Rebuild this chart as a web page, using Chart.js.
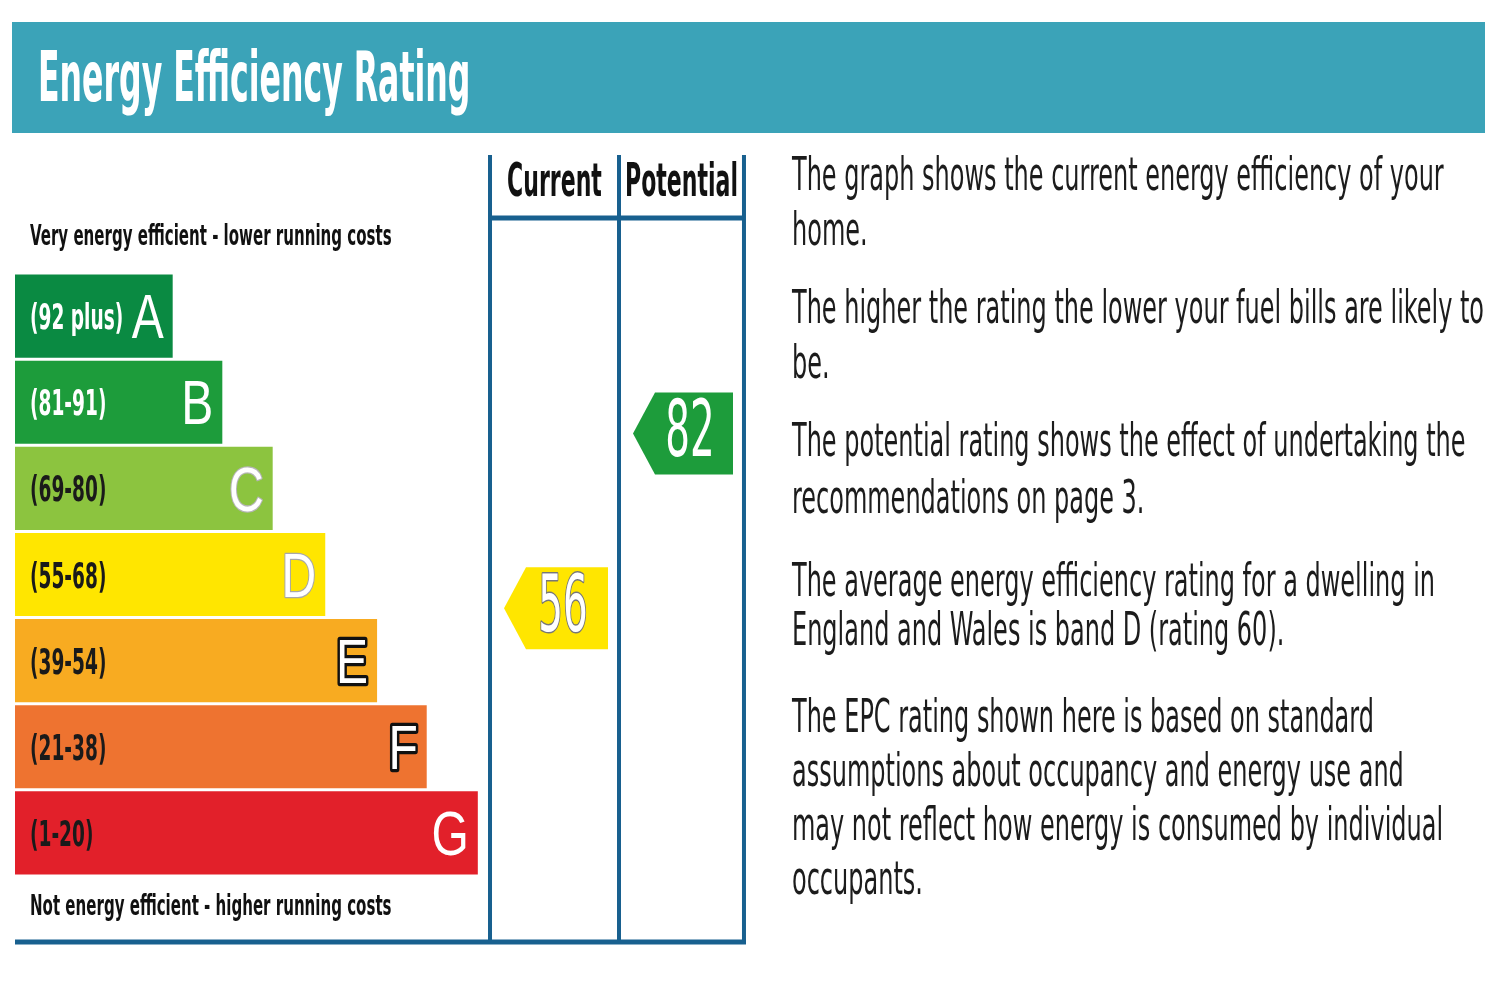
<!DOCTYPE html>
<html>
<head>
<meta charset="utf-8">
<title>Energy Efficiency Rating</title>
<script src="https://cdn.jsdelivr.net/npm/chart.js@4.4.1/dist/chart.umd.min.js"></script>
<style>
  html, body { margin:0; padding:0; background:#fff; }
  body { width:1500px; height:1000px; position:relative; overflow:hidden;
         font-family:"Liberation Sans Narrow","Arial Narrow","DejaVu Sans Condensed",sans-serif; }
  #head { position:absolute; left:12px; top:22px; width:1473px; height:111px; background:#3ba3b8; }
  #title { position:absolute; left:26px; top:20px; color:#fff; font-weight:bold; font-size:45px;
           line-height:45px; white-space:nowrap; transform:scale(0.78, 1.55); transform-origin:left top; }
  #epc { position:absolute; left:0; top:0; width:1500px; height:1000px; }
  .note { position:absolute; left:792px; font-size:31px; color:#1c1c1c;
          white-space:nowrap; transform:scale(0.86, 1.5); transform-origin:left top; }
</style>
</head>
<body>
<div id="head"><div id="title">Energy Efficiency Rating</div></div>
<canvas id="epc" width="1500" height="1000"></canvas>
<div class="note" style="top:146px; line-height:36.7px">The graph shows the current energy efficiency of your<br>home.</div>
<div class="note" style="top:279px; line-height:36.7px">The higher the rating the lower your fuel bills are likely to<br>be.</div>
<div class="note" style="top:411px; line-height:38px">The potential rating shows the effect of undertaking the<br>recommendations on page 3.</div>
<div class="note" style="top:555px; line-height:33.3px">The average energy efficiency rating for a dwelling in<br>England and Wales is band D (rating 60).</div>
<div class="note" style="top:688px; line-height:36px">The EPC rating shown here is based on standard<br>assumptions about occupancy and energy use and<br>may not reflect how energy is consumed by individual<br>occupants.</div>
<script>
// bands, top (best) to bottom (worst)
const bandLetters = ['A', 'B', 'C', 'D', 'E', 'F', 'G'];
const bandRanges = ['(92 plus)', '(81-91)', '(69-80)', '(55-68)', '(39-54)', '(21-38)', '(1-20)'];
const bandLow = [92, 81, 69, 55, 39, 21, 1];
const bandHigh = [100, 91, 80, 68, 54, 38, 20];
const bandLengths = [21.6, 28.4, 35.3, 42.5, 49.6, 56.4, 63.4];

// the two ratings shown in the columns
const ratingLabels = ['Current', 'Potential'];
const ratingValues = [56, 82];

const bandColors = ['#0a8a42', '#1d9c3b', '#8cc43f', '#ffe600', '#f8ab21', '#ee7330', '#e2202a'];
const rangeColors = ['#fff', '#fff', '#1a1a1a', '#1a1a1a', '#1a1a1a', '#1a1a1a', '#1a1a1a'];
const letterStroke = [null, null, '#b5b5b5', '#a8a8a8', '#111', '#111', null];
const lineBlue = '#18608f';
const NARROW = '"Liberation Sans Narrow","Arial Narrow","DejaVu Sans Condensed",sans-serif';
const WIDE = '"Liberation Sans",Arial,sans-serif';

// column edges, in x-scale units
const columnEdges = [65.07, 82.74, 99.86];

const tallText = (ctx, text, x, y, opts) => {
    ctx.save();
    ctx.translate(x, y);
    ctx.scale(opts.sx || 1, opts.sy || 1.5);
    ctx.font = opts.font;
    ctx.textAlign = opts.align || 'left';
    ctx.textBaseline = 'middle';
    if (opts.stroke) {
        ctx.strokeStyle = opts.stroke;
        ctx.lineWidth = opts.lineWidth || 3;
        ctx.lineJoin = 'round';
        ctx.strokeText(text, 0, 0);
    }
    ctx.fillStyle = opts.color || '#000';
    ctx.fillText(text, 0, 0);
    ctx.restore();
};

const bandIndexFor = (r) => bandLow.findIndex((lo, i) => r >= lo && r <= bandHigh[i]);

const epcPlugin = {
    id: 'epcDecor',
    afterDatasetsDraw(chart) {
        const ctx = chart.ctx;
        const xs = chart.scales.x;
        const ys = chart.scales.y;
        const bars = chart.getDatasetMeta(0).data;
        const bandH = ys.getPixelForValue(1) - ys.getPixelForValue(0);

        // band labels
        bars.forEach((bar, i) => {
            tallText(ctx, bandRanges[i], bar.base + 15, bar.y + 4, {
                font: 'bold 24px ' + NARROW, sx: 0.86, sy: 1.45, color: rangeColors[i]
            });
            tallText(ctx, bandLetters[i], bar.x - 9, bar.y + 5, {
                font: '48px ' + WIDE, sy: 1.3, align: 'right', color: '#fff',
                stroke: letterStroke[i], lineWidth: i > 3 ? 5 : 2
            });
        });

        // captions
        tallText(ctx, 'Very energy efficient - lower running costs', 30, 238, {
            font: 'bold 19px ' + NARROW, sx: 0.88, sy: 1.5, color: '#111'
        });
        tallText(ctx, 'Not energy efficient - higher running costs', 30, 908, {
            font: 'bold 19px ' + NARROW, sx: 0.88, sy: 1.5, color: '#111'
        });

        // column frame
        const colX = columnEdges.map(v => xs.getPixelForValue(v));
        ctx.save();
        ctx.strokeStyle = lineBlue;
        ctx.lineWidth = 4;
        colX.forEach(x => {
            ctx.beginPath();
            ctx.moveTo(x, 155);
            ctx.lineTo(x, 944);
            ctx.stroke();
        });
        ctx.lineWidth = 5;
        ctx.beginPath();
        ctx.moveTo(colX[0], 218);
        ctx.lineTo(colX[2], 218);
        ctx.stroke();
        ctx.beginPath();
        ctx.moveTo(chart.chartArea.left, 942);
        ctx.lineTo(colX[2] + 2, 942);
        ctx.stroke();
        ctx.restore();

        // column headers and rating arrows
        ratingLabels.forEach((label, c) => {
            const left = colX[c], right = colX[c + 1];
            tallText(ctx, label, (left + right) / 2, 184, {
                font: 'bold 31px ' + NARROW, sx: 0.79, sy: 1.5, align: 'center', color: '#111'
            });

            const r = ratingValues[c];
            const i = bandIndexFor(r);
            const frac = (bandHigh[i] + 0.5 - r) / (bandHigh[i] - bandLow[i] + 1);
            const yc = ys.getPixelForValue(i) - bandH / 2 + frac * bandH;
            const tip = left + 14, end = right - 11, depth = 22, h = 82;
            ctx.save();
            ctx.fillStyle = bandColors[i];
            ctx.beginPath();
            ctx.moveTo(tip, yc);
            ctx.lineTo(tip + depth, yc - h / 2);
            ctx.lineTo(end, yc - h / 2);
            ctx.lineTo(end, yc + h / 2);
            ctx.lineTo(tip + depth, yc + h / 2);
            ctx.closePath();
            ctx.fill();
            ctx.restore();
            tallText(ctx, String(r), (tip + depth + end) / 2 - 4, yc + 2, {
                font: '52px ' + NARROW, sx: 0.83, sy: 1.5, align: 'center', color: '#fff',
                stroke: i === 3 ? '#777' : null, lineWidth: 2
            });
        });
    }
};

const ctx = document.getElementById('epc').getContext('2d');
const epcChart = new Chart(ctx, {
    type: 'bar',
    data: {
        labels: bandLetters,
        datasets: [{
            label: 'Energy efficiency band',
            data: bandLengths,
            backgroundColor: bandColors,
            borderWidth: 0,
            barPercentage: 0.965,
            categoryPercentage: 1
        }]
    },
    options: {
        indexAxis: 'y',
        responsive: false,
        devicePixelRatio: 1,
        animation: false,
        layout: { padding: { left: 15, right: 755, top: 273, bottom: 124 } },
        plugins: { legend: { display: false }, tooltip: { enabled: false } },
        scales: {
            x: { display: false, min: 0, max: 100 },
            y: { display: false }
        }
    },
    plugins: [epcPlugin]
});
</script>
</body>
</html>
